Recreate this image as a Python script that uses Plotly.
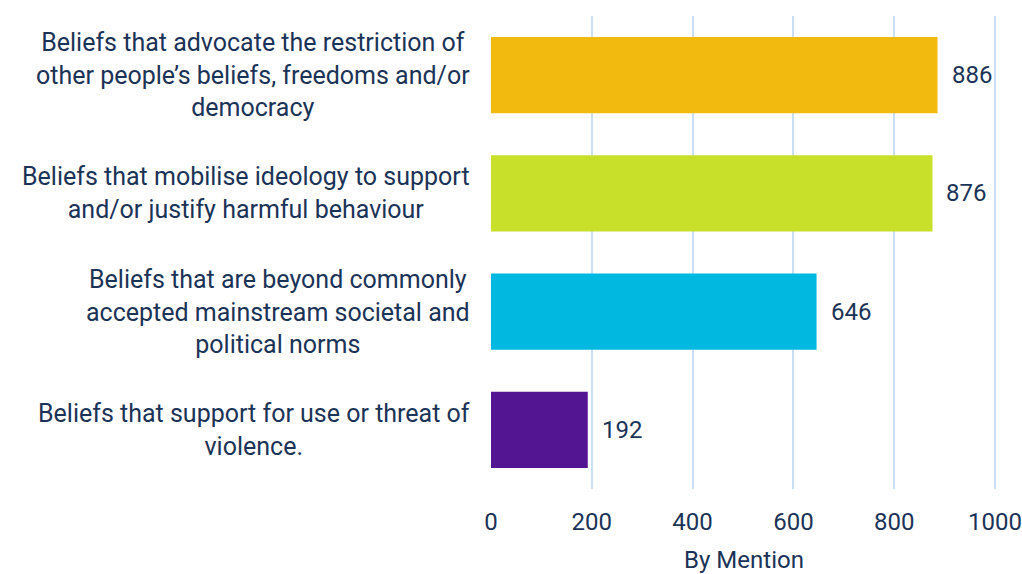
import plotly.graph_objects as go

categories = [
    "Beliefs that advocate the restriction of<br>other people’s beliefs, freedoms and/or<br>democracy",
    "Beliefs that mobilise ideology to support<br>and/or justify harmful behaviour",
    "Beliefs that are beyond commonly<br>accepted mainstream societal and<br>political norms",
    "Beliefs that support for use or threat of<br>violence.",
]
values = [886, 876, 646, 192]
colors = ["#F2B90F", "#C8E02A", "#00B8E0", "#531591"]
x_ticks = [0, 200, 400, 600, 800, 1000]

FONT = "Roboto, Arial, sans-serif"
TEXT = "#1B3357"

fig = go.Figure()
fig.add_trace(go.Bar(
    y=categories,
    x=values,
    orientation="h",
    marker=dict(color=colors, line=dict(width=0)),
    width=0.645,
))

for cat, v in zip(categories, values):
    fig.add_annotation(
        x=-0.038, xref="paper", y=cat, yref="y",
        text=cat, showarrow=False, xanchor="right", yanchor="middle",
        align="center", font=dict(family=FONT, size=25, color=TEXT),
    )
    fig.add_annotation(
        x=v, xref="x", y=cat, yref="y", text=str(v), showarrow=False,
        xanchor="left", yanchor="middle", xshift=12,
        font=dict(family=FONT, size=24, color=TEXT),
    )

fig.update_layout(
    width=1022, height=574,
    margin=dict(l=491, r=25, t=16, b=85, autoexpand=False),
    paper_bgcolor="white", plot_bgcolor="white",
    showlegend=False,
    font=dict(family=FONT, color=TEXT),
)
fig.update_xaxes(
    range=[0, 1004], tickvals=x_ticks,
    showgrid=True, gridcolor="#C9E0F4", gridwidth=2,
    zeroline=False, showline=False, automargin=False,
    tickfont=dict(family=FONT, size=24, color=TEXT),
    ticks="", ticklabelstandoff=16, ticklabeloverflow="allow",
    title=dict(text="By Mention", font=dict(family=FONT, size=24, color=TEXT), standoff=17),
)
fig.update_yaxes(
    autorange="reversed", showticklabels=False, showgrid=False,
    zeroline=False, showline=False, automargin=False,
)

fig.write_html(
    "out.html",
    config={"displayModeBar": False},
    post_script="document.body.style.margin='0';document.body.style.overflow='hidden';",
)
